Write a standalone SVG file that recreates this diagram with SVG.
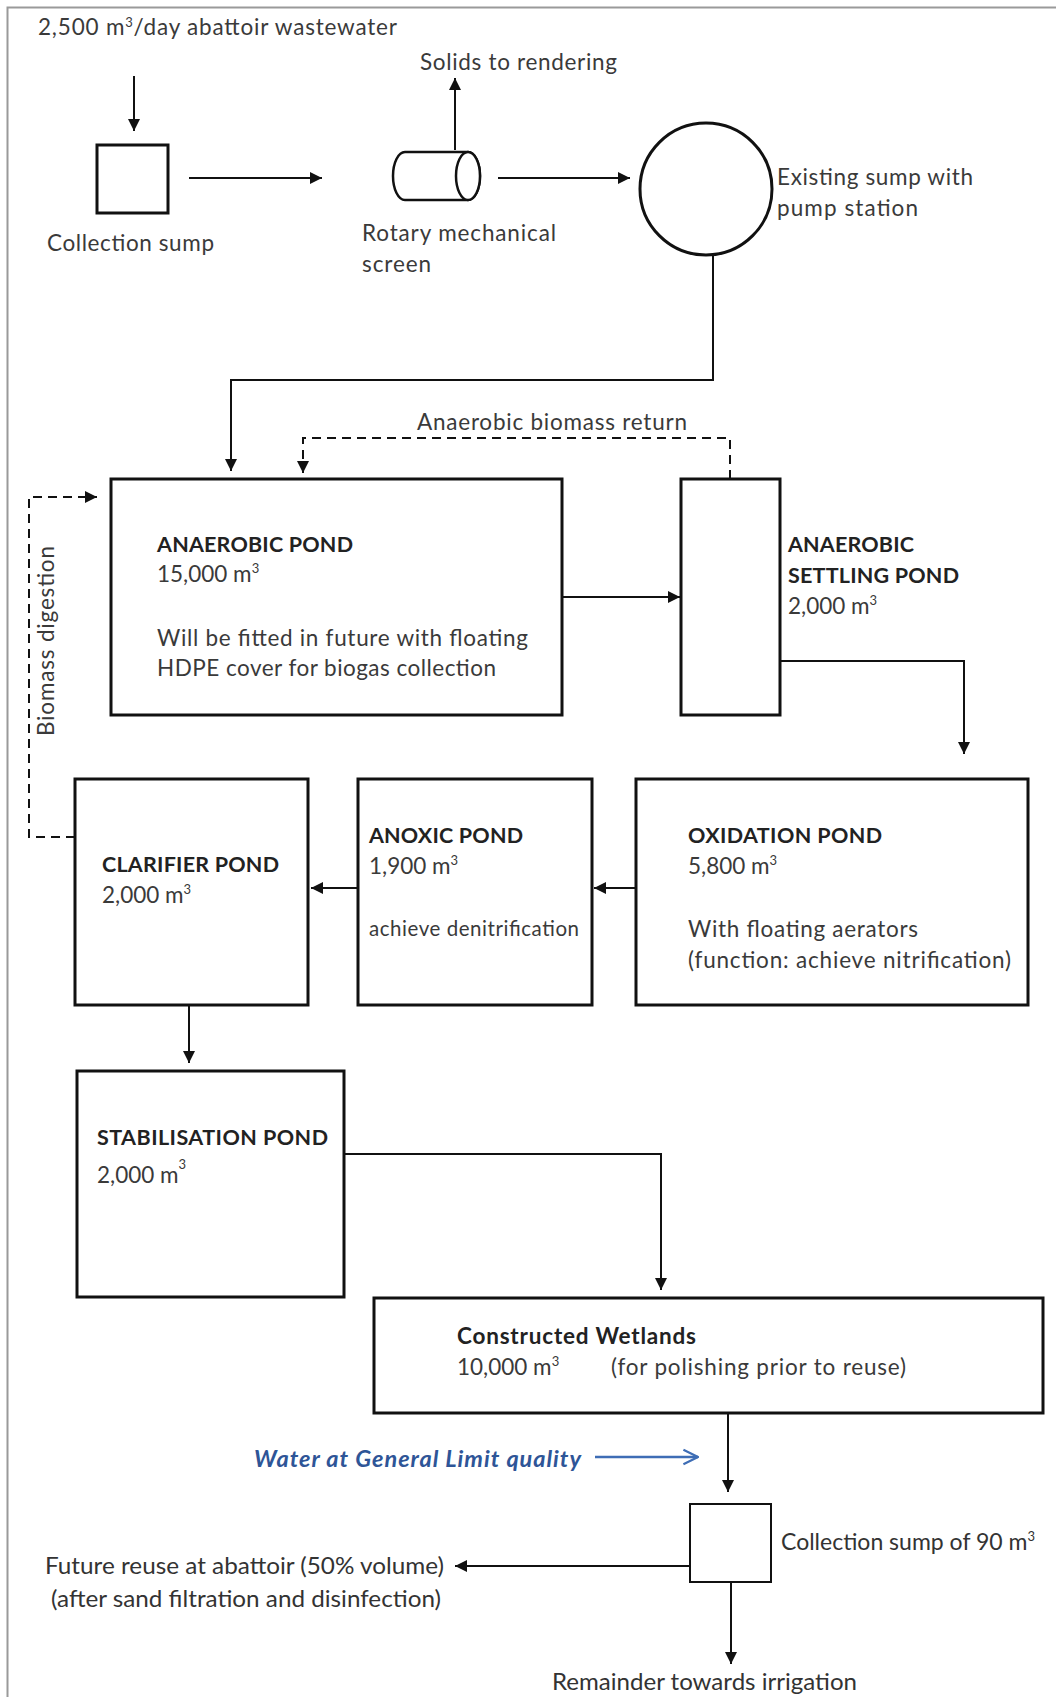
<svg xmlns="http://www.w3.org/2000/svg" width="1056" height="1697" viewBox="0 0 1056 1697">
<style>
text{font-family:Lato,"Open Sans","Liberation Sans",sans-serif;font-size:22.5px;fill:#3a3a3a}
.b{font-weight:bold;fill:#222;font-size:21.5px}
.sup{font-size:13px}
.box{fill:#fff;stroke:#111;stroke-width:3}
.ln{fill:none;stroke:#111;stroke-width:2}
.dash{fill:none;stroke:#111;stroke-width:2;stroke-dasharray:9 6}
.cond{font-size:23px;fill:#333}
</style>
<defs>
<marker id="ah" viewBox="0 0 10 10" refX="10" refY="5" markerWidth="6" markerHeight="6" orient="auto" markerUnits="strokeWidth">
<path d="M0,0 L10,5 L0,10 z" fill="#111"/>
</marker>
<marker id="bh" viewBox="0 0 12 12" refX="11" refY="6" markerWidth="7" markerHeight="7" orient="auto" markerUnits="strokeWidth">
<path d="M1,1 L11,6 L1,11" fill="none" stroke="#3e6db5" stroke-width="1.5"/>
</marker>
</defs>
<rect width="1056" height="1697" fill="#fff"/>
<path d="M7.5,1697 V7.5 H1056" fill="none" stroke="#9a9a9a" stroke-width="2"/>

<g id="input-label"><text x="38" y="35" textLength="359">2,500 m<tspan class="sup" dy="-8">3</tspan><tspan dy="8">/day abattoir wastewater</tspan></text></g>

<g id="collection-sump">
<rect class="box" x="97" y="145" width="71" height="68" stroke-width="2.5"/>
<text x="47" y="251" textLength="167">Collection sump</text>
</g>

<g id="rotary-screen">
<path d="M405,152 H468 A12,24 0 0 1 468,200 H405 A12,24 0 0 1 405,152 z" fill="#fff" stroke="#111" stroke-width="2.5"/>
<ellipse cx="468" cy="176" rx="12" ry="24" fill="#fff" stroke="#111" stroke-width="2.5"/>
<text x="362" y="241" textLength="194">Rotary mechanical</text>
<text x="362" y="272" textLength="69">screen</text>
</g>

<g id="solids-label"><text x="420" y="70" textLength="197">Solids to rendering</text></g>

<g id="existing-sump">
<circle cx="706" cy="189" r="66" fill="#fff" stroke="#111" stroke-width="3"/>
<text x="777" y="185" textLength="196">Existing sump with</text>
<text x="777" y="216" textLength="141">pump station</text>
</g>

<g id="anaerobic-pond">
<rect class="box" x="111" y="479" width="451" height="236"/>
<text class="b" x="157" y="552" textLength="196">ANAEROBIC POND</text>
<text x="157" y="582">15,000 m<tspan class="sup" dy="-9">3</tspan></text>
<text x="157" y="646" textLength="371">Will be fitted in future with floating</text>
<text x="157" y="676" textLength="339">HDPE cover for biogas collection</text>
</g>

<g id="anaerobic-settling-pond">
<rect class="box" x="681" y="479" width="99" height="236"/>
<text class="b" x="788" y="552" textLength="126">ANAEROBIC</text>
<text class="b" x="788" y="583" textLength="171">SETTLING POND</text>
<text x="788" y="614">2,000 m<tspan class="sup" dy="-9">3</tspan></text>
</g>

<g id="oxidation-pond">
<rect class="box" x="636" y="779" width="392" height="226"/>
<text class="b" x="688" y="843" textLength="194">OXIDATION POND</text>
<text x="688" y="874">5,800 m<tspan class="sup" dy="-9">3</tspan></text>
<text x="688" y="937" textLength="230">With floating aerators</text>
<text x="688" y="968" textLength="323">(function: achieve nitrification)</text>
</g>

<g id="anoxic-pond">
<rect class="box" x="358" y="779" width="234" height="226"/>
<text class="b" x="369" y="843" textLength="154">ANOXIC POND</text>
<text x="369" y="874">1,900 m<tspan class="sup" dy="-9">3</tspan></text>
<text x="369" y="936" style="font-size:20.5px" textLength="210">achieve denitrification</text>
</g>

<g id="clarifier-pond">
<rect class="box" x="75" y="779" width="233" height="226"/>
<text class="b" x="102" y="872" textLength="177">CLARIFIER POND</text>
<text x="102" y="903">2,000 m<tspan class="sup" dy="-9">3</tspan></text>
</g>

<g id="stabilisation-pond">
<rect class="box" x="77" y="1071" width="267" height="226"/>
<text class="b" x="97" y="1145" textLength="231">STABILISATION POND</text>
<text x="97" y="1183">2,000 m<tspan class="sup" dy="-14">3</tspan></text>
</g>

<g id="constructed-wetlands">
<rect class="box" x="374" y="1298" width="669" height="115"/>
<text class="b" x="457" y="1344" textLength="239" style="font-size:22.5px">Constructed Wetlands</text>
<text x="457" y="1375">10,000 m<tspan class="sup" dy="-9">3</tspan></text>
<text x="611" y="1375" textLength="295">(for polishing prior to reuse)</text>
</g>

<g id="final-sump">
<rect x="690" y="1504" width="81" height="78" fill="#fff" stroke="#111" stroke-width="2"/>
<text class="cond" x="781" y="1550" textLength="254" lengthAdjust="spacingAndGlyphs">Collection sump of 90 m<tspan class="sup" dy="-9">3</tspan></text>
</g>

<g id="outputs">
<text class="cond" x="45" y="1574" textLength="399" lengthAdjust="spacingAndGlyphs">Future reuse at abattoir (50% volume)</text>
<text class="cond" x="51" y="1607" textLength="390" lengthAdjust="spacingAndGlyphs">(after sand filtration and disinfection)</text>
<text class="cond" x="552" y="1690" textLength="305" lengthAdjust="spacingAndGlyphs">Remainder towards irrigation</text>
<text x="254" y="1467" textLength="327" style="font-weight:bold;font-style:italic;fill:#2e5597;font-size:23.5px">Water at General Limit quality</text>
</g>

<g id="connectors">
<line class="ln" x1="134" y1="76" x2="134" y2="131" marker-end="url(#ah)"/>
<line class="ln" x1="189" y1="178" x2="322" y2="178" marker-end="url(#ah)"/>
<line class="ln" x1="455" y1="150" x2="455" y2="78" marker-end="url(#ah)"/>
<line class="ln" x1="498" y1="178" x2="630" y2="178" marker-end="url(#ah)"/>
<polyline class="ln" points="713,255 713,380 231,380 231,471" marker-end="url(#ah)"/>
<polyline class="dash" points="730,479 730,438 303,438 303,473" marker-end="url(#ah)"/>
<text x="417" y="430" textLength="270">Anaerobic biomass return</text>
<line class="ln" x1="562" y1="597" x2="680" y2="597" marker-end="url(#ah)"/>
<polyline class="ln" points="780,661 964,661 964,754" marker-end="url(#ah)"/>
<line class="ln" x1="636" y1="888" x2="594" y2="888" marker-end="url(#ah)"/>
<line class="ln" x1="358" y1="888" x2="311" y2="888" marker-end="url(#ah)"/>
<polyline class="dash" points="75,837 29,837 29,497 97,497" marker-end="url(#ah)"/>
<text transform="translate(54,641) rotate(-90)" text-anchor="middle" textLength="190">Biomass digestion</text>
<line class="ln" x1="189" y1="1005" x2="189" y2="1063" marker-end="url(#ah)"/>
<polyline class="ln" points="344,1154 661,1154 661,1290" marker-end="url(#ah)"/>
<line class="ln" x1="728" y1="1413" x2="728" y2="1492" marker-end="url(#ah)"/>
<line x1="595" y1="1457" x2="698" y2="1457" stroke="#3e6db5" stroke-width="2.5" marker-end="url(#bh)"/>
<line class="ln" x1="690" y1="1566" x2="455" y2="1566" marker-end="url(#ah)"/>
<line class="ln" x1="731" y1="1582" x2="731" y2="1664" marker-end="url(#ah)"/>
</g>
</svg>
